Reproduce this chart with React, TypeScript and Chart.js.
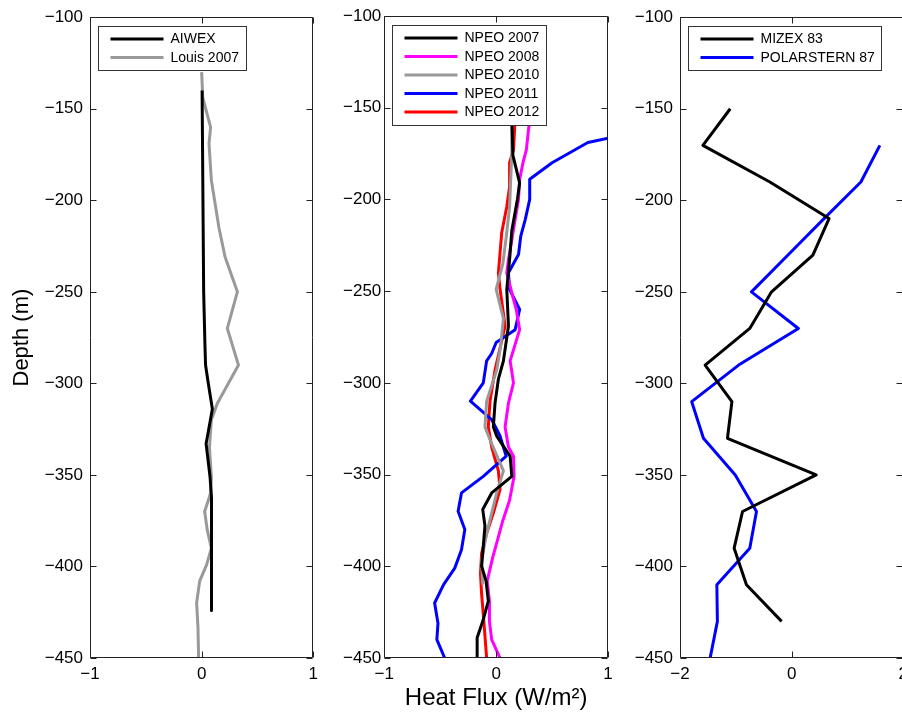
import React, { useEffect, useRef } from "react";
import { Chart, registerables } from "chart.js";
Chart.register(...registerables);

const FONT = "'Liberation Sans', Arial, Helvetica, sans-serif";

// ---------- data ----------
const yTickValues = [-450, -400, -350, -300, -250, -200, -150, -100];

// Panel 1
const aiwexDepth = [-140, -250, -280, -290, -299, -314, -333, -351, -362, -424];
const aiwexFlux = [0.004, 0.018, 0.03, 0.035, 0.057, 0.096, 0.04, 0.075, 0.088, 0.088];

const louisDepth = [-130, -144, -160, -169, -189, -215, -231, -250, -260, -270, -290, -311, -320, -335, -351, -360, -370, -380, -390, -399, -408, -420, -433, -450];
const louisFlux = [0.0, 0.01, 0.08, 0.066, 0.087, 0.155, 0.21, 0.32, 0.275, 0.23, 0.33, 0.14, 0.087, 0.07, 0.087, 0.08, 0.027, 0.05, 0.087, 0.045, -0.018, -0.045, -0.033, -0.027];

// Panel 2
const npeo2007Depth = [-156, -176, -191, -200, -217, -233, -249, -269, -288, -298, -311, -324, -329, -340, -351, -360, -369, -378, -400, -408, -419, -430, -439, -450];
const npeo2007Flux = [0.14, 0.15, 0.21, 0.19, 0.14, 0.12, 0.095, 0.11, 0.065, 0.02, -0.01, -0.025, 0.005, 0.125, 0.14, -0.04, -0.12, -0.1, -0.13, -0.09, -0.07, -0.12, -0.17, -0.17];

const npeo2008Depth = [-156, -173, -180, -189, -200, -211, -222, -233, -240, -251, -260, -271, -288, -300, -311, -324, -335, -340, -351, -364, -375, -384, -395, -408, -419, -430, -440, -450];
const npeo2008Flux = [0.3, 0.27, 0.24, 0.21, 0.2, 0.17, 0.14, 0.11, 0.095, 0.14, 0.18, 0.21, 0.125, 0.155, 0.11, 0.08, 0.11, 0.155, 0.16, 0.12, 0.06, 0.02, -0.03, -0.08, -0.06, -0.06, -0.04, 0.035];

const npeo2010Depth = [-156, -175, -204, -218, -235, -249, -265, -280, -293, -310, -324, -331, -348, -360, -371, -382, -397, -410];
const npeo2010Flux = [0.14, 0.14, 0.12, 0.095, 0.06, 0.0, 0.065, 0.04, 0.005, -0.085, -0.1, -0.055, 0.065, 0.005, -0.04, -0.085, -0.13, -0.12];

const npeo2011Depth = [-166, -169, -180, -189, -200, -211, -220, -230, -240, -249, -260, -271, -278, -284, -288, -300, -310, -320, -329, -340, -351, -360, -370, -380, -391, -401, -410, -420, -431, -440, -450];
const npeo2011Flux = [1.05, 0.82, 0.5, 0.3, 0.3, 0.26, 0.22, 0.2, 0.11, 0.12, 0.21, 0.17, 0.0, -0.04, -0.085, -0.115, -0.23, -0.04, 0.035, 0.09, -0.115, -0.31, -0.34, -0.28, -0.31, -0.37, -0.47, -0.55, -0.52, -0.53, -0.46];

const npeo2012Depth = [-156, -173, -180, -193, -204, -218, -240, -249, -269, -293, -310, -324, -335, -348, -358, -371, -382, -393, -404, -415, -430, -450];
const npeo2012Flux = [0.17, 0.155, 0.12, 0.12, 0.095, 0.05, 0.02, 0.035, 0.08, -0.01, -0.055, -0.07, -0.04, 0.02, 0.035, -0.025, -0.085, -0.13, -0.14, -0.13, -0.11, -0.085];

// Panel 3
const mizexDepth = [-150, -170, -190, -210, -230, -250, -270, -290, -310, -330, -350, -370, -390, -410, -430];
const mizexFlux = [-1.1, -1.59, -0.39, 0.67, 0.38, -0.36, -0.75, -1.55, -1.07, -1.15, 0.44, -0.88, -1.03, -0.81, -0.18];

const polarDepth = [-170, -190, -210, -230, -250, -270, -290, -310, -330, -350, -370, -390, -410, -430, -450];
const polarFlux = [1.58, 1.24, 0.58, -0.07, -0.72, 0.12, -0.95, -1.79, -1.58, -1.01, -0.63, -0.75, -1.34, -1.33, -1.46];

// ---------- helpers ----------
const pts = (depth: number[], flux: number[]) => depth.map((d, i) => ({ x: flux[i], y: d }));
const fmt = (v: number) => (v < 0 ? "\u2212" + Math.abs(v) : String(v));

const ds = (label: string, color: string, depth: number[], flux: number[]) => ({
  label,
  data: pts(depth, flux),
  borderColor: color,
  backgroundColor: color,
  borderWidth: 3,
  borderJoinStyle: "round",
  pointRadius: 0,
  pointHoverRadius: 0,
  showLine: true,
  fill: false,
  tension: 0,
});

const frameLegendPlugin = {
  id: "frameLegend",
  afterDatasetsDraw(chart: any) {
    const { ctx, chartArea: ca } = chart;
    const xs = chart.scales.x;
    const ys = chart.scales.y;
    ctx.save();
    ctx.strokeStyle = "#222";
    ctx.lineWidth = 1;
    const L = Math.round(ca.left) + 0.5;
    const R = Math.round(ca.right) - 0.5;
    const T = Math.round(ca.top) + 0.5;
    const B = Math.round(ca.bottom) - 0.5;
    ctx.beginPath();
    ctx.rect(L, T, R - L, B - T);
    ctx.stroke();
    const tl = 6;
    ctx.beginPath();
    xs.ticks.forEach((t: any) => {
      const px = Math.round(xs.getPixelForValue(t.value)) + 0.5;
      ctx.moveTo(px, B);
      ctx.lineTo(px, B - tl);
      ctx.moveTo(px, T);
      ctx.lineTo(px, T + tl);
    });
    ys.ticks.forEach((t: any) => {
      const py = Math.round(ys.getPixelForValue(t.value)) + 0.5;
      ctx.moveTo(L, py);
      ctx.lineTo(L + tl, py);
      ctx.moveTo(R, py);
      ctx.lineTo(R - tl, py);
    });
    ctx.stroke();
    // legend
    const items = chart.data.datasets.map((d: any) => ({ label: d.label, color: d.borderColor }));
    ctx.font = `14px ${FONT}`;
    const textW = Math.max(...items.map((it: any) => ctx.measureText(it.label).width));
    const bx = Math.round(ca.left) + 8.5;
    const by = Math.round(ca.top) + 9.5;
    const rowH = 18.5;
    const bw = Math.round(12 + 53 + 7 + textW + 7);
    const bh = Math.round(items.length * rowH + 7);
    ctx.fillStyle = "#fff";
    ctx.fillRect(bx, by, bw, bh);
    ctx.strokeStyle = "#333";
    ctx.lineWidth = 1;
    ctx.strokeRect(bx, by, bw, bh);
    items.forEach((it: any, i: number) => {
      const y = by + 12.5 + i * rowH;
      ctx.strokeStyle = it.color;
      ctx.lineWidth = 3;
      ctx.beginPath();
      ctx.moveTo(bx + 12, y);
      ctx.lineTo(bx + 65, y);
      ctx.stroke();
      ctx.fillStyle = "#000";
      ctx.textBaseline = "middle";
      ctx.textAlign = "left";
      ctx.fillText(it.label, bx + 72, y + 0.5);
    });
    ctx.restore();
  },
};

type PanelProps = {
  left: number;
  width: number;
  yWidth: number;
  padRight: number;
  xMin: number;
  xMax: number;
  xStep: number;
  yLabelPad: number;
  datasets: any[];
  yTitle?: string;
  xTitle?: string;
};

function Panel(p: PanelProps) {
  const ref = useRef<HTMLCanvasElement | null>(null);
  useEffect(() => {
    if (!ref.current) return;
    const chart = new Chart(ref.current, {
      type: "scatter",
      data: { datasets: p.datasets },
      plugins: [frameLegendPlugin],
      options: {
        responsive: false,
        maintainAspectRatio: false,
        animation: false,
        events: [],
        devicePixelRatio: 1,
        layout: { padding: { left: 0, right: p.padRight, top: 16, bottom: 0 } },
        plugins: { legend: { display: false }, tooltip: { enabled: false } },
        scales: {
          x: {
            type: "linear",
            min: p.xMin,
            max: p.xMax,
            grid: { display: false, drawTicks: false, tickLength: 0 },
            border: { display: false },
            afterBuildTicks: (s: any) => {
              const t = [];
              for (let v = p.xMin; v <= p.xMax + 1e-9; v += p.xStep) t.push({ value: v });
              s.ticks = t;
            },
            ticks: {
              color: "#000",
              font: { family: FONT, size: 17 },
              padding: 6,
              maxRotation: 0,
              autoSkip: false,
              callback: (v: any) => fmt(Number(v)),
            },
            title: {
              display: !!p.xTitle,
              text: p.xTitle || "",
              color: "#000",
              font: { family: FONT, size: 24 },
              padding: { top: 0, bottom: 6 },
            },
            afterFit: (s: any) => {
              s.height = 61;
            },
          },
          y: {
            type: "linear",
            min: -450,
            max: -100,
            grid: { display: false, drawTicks: false, tickLength: 0 },
            border: { display: false },
            afterBuildTicks: (s: any) => {
              s.ticks = yTickValues.map((v) => ({ value: v }));
            },
            ticks: {
              color: "#000",
              font: { family: FONT, size: 17 },
              padding: p.yLabelPad,
              autoSkip: false,
              callback: (v: any) => fmt(Number(v)),
            },
            title: {
              display: !!p.yTitle,
              text: p.yTitle || "",
              color: "#000",
              font: { family: FONT, size: 22 },
              padding: { top: 9, bottom: 0 },
            },
            afterFit: (s: any) => {
              s.width = p.yWidth;
            },
          },
        },
      } as any,
    });
    return () => chart.destroy();
  }, []);
  return (
    <canvas
      ref={ref}
      width={p.width}
      height={719}
      style={{ position: "absolute", left: p.left, top: 0, width: p.width, height: 719 }}
    />
  );
}

export default function App() {
  const panel1 = [
    ds("AIWEX", "#000000", aiwexDepth, aiwexFlux),
    ds("Louis 2007", "#999999", louisDepth, louisFlux),
  ];
  const panel2 = [
    ds("NPEO 2007", "#000000", npeo2007Depth, npeo2007Flux),
    ds("NPEO 2008", "#ff00ff", npeo2008Depth, npeo2008Flux),
    ds("NPEO 2010", "#999999", npeo2010Depth, npeo2010Flux),
    ds("NPEO 2011", "#0000ff", npeo2011Depth, npeo2011Flux),
    ds("NPEO 2012", "#ff0000", npeo2012Depth, npeo2012Flux),
  ];
  const panel3 = [
    ds("MIZEX 83", "#000000", mizexDepth, mizexFlux),
    ds("POLARSTERN 87", "#0000ff", polarDepth, polarFlux),
  ];
  return (
    <div
      style={{
        position: "fixed",
        left: 0,
        top: 0,
        width: 902,
        height: 719,
        overflow: "hidden",
        background: "#fff",
      }}
    >
      <Panel left={0} width={330} yWidth={90} padRight={16.7} xMin={-1} xMax={1} xStep={1} yLabelPad={7} datasets={panel1} yTitle="Depth (m)" />
      <Panel left={330} width={290} yWidth={54.3} padRight={12} xMin={-1} xMax={1} xStep={1} yLabelPad={3} datasets={panel2} xTitle="Heat Flux (W/m²)" />
      <Panel left={620} width={320} yWidth={60} padRight={36.7} xMin={-2} xMax={2} xStep={2} yLabelPad={7} datasets={panel3} />
    </div>
  );
}
